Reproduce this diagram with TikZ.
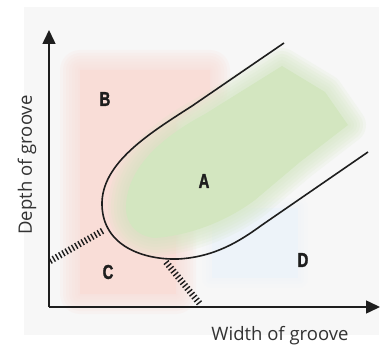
\documentclass[tikz,border=0pt]{standalone}
\usepackage{fontspec}
\usetikzlibrary{arrows.meta}
\newfontfamily\axisfont{Open Sans}
\newfontfamily\labfont{Liberation Sans}[FakeStretch=0.74, BoldFeatures={FakeBold=1.6}]
\definecolor{bgc}{HTML}{F7F7F7}
\definecolor{pinkc}{HTML}{F9DDD7}
\definecolor{greenc}{HTML}{D3E6C0}
\definecolor{bluec}{HTML}{EDF3F9}
\definecolor{inkc}{HTML}{1E1E1E}
\newcommand\softblob[3]{%
  \foreach \w in {#2}{\draw[#1,line width=\w pt,opacity=0.16,line join=round] #3;}
  \fill[#1] #3;}
\tikzset{
  region/.style={font=\labfont\bfseries\fontsize{20}{20}\selectfont, text=inkc, inner sep=0pt},
  axislabel/.style={font=\axisfont\fontsize{18.5}{18.5}\selectfont, text=black!80, inner sep=0pt},
  axisline/.style={draw=inkc, line width=1.5pt, -{Triangle[length=14pt,width=13pt]}},
  boundary/.style={draw=inkc, line width=1.6pt},
  hatch/.style={draw=inkc, line width=6.5pt, dash pattern=on 1.4pt off 2.3pt}
}
\begin{document}
\begin{tikzpicture}[x=1pt,y=-1pt]
\useasboundingbox (0,0) rectangle (380,347);
\fill[bgc] (24,7) rectangle (379,335);
% soft regions
\softblob{pinkc}{40,34,28,22,16,10,4}{(80,70) -- (210,70) -- (210,92) -- (176,122) -- (176,294) -- (80,294) -- cycle}
\softblob{bluec}{20,12,6}{(212,208) -- (298,208) -- (298,278) -- (212,278) -- cycle}
\softblob{greenc}{36,30,24,18,12,6}{(126,205) .. controls (128,168) and (160,138) .. (205,114) -- (282,66) -- (325,92) -- (348,125) -- (300,162) -- (255,200) .. controls (220,226) and (182,236) .. (155,238) .. controls (135,236) and (125,222) .. (126,205) -- cycle}
% boundary curve
\coordinate (u1) at (284,43);
\coordinate (u2) at (192,106);
\coordinate (left) at (102,205);
\coordinate (bot) at (178,259);
\coordinate (l1) at (262,225);
\coordinate (l2) at (368,152);
\draw[boundary] (u1) -- (u2) .. controls (150,133) and (101,163) .. (left)
  .. controls (103,247) and (145,260) .. (bot)
  .. controls (215,257) and (240,241) .. (l1) -- (l2);
% hatched boundaries
\coordinate (h1a) at (50,261);
\coordinate (h1b) at (104,230);
\coordinate (h2a) at (166,262);
\coordinate (h2b) at (200,304);
\draw[hatch] (h1a) -- (h1b);
\draw[hatch] (h2a) -- (h2b);
% axes
\coordinate (O) at (49,307);
\coordinate (Y) at (49,30);
\coordinate (X) at (380,307);
\draw[axisline] (O) -- (Y);
\draw[axisline] (O) -- (X);
% labels
\node[region] (A) at (204,181) {A};
\node[region] (B) at (105,99) {B};
\node[region] (C) at (108,272) {C};
\node[region] (D) at (303,260) {D};
\node[axislabel] (xl) at (280,336) {Width of groove};
\node[axislabel, rotate=90] (yl) at (27,165) {Depth of groove};
\end{tikzpicture}
\end{document}
